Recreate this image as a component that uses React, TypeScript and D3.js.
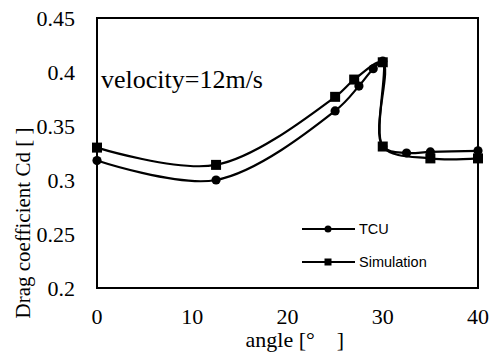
import React from "react";
import * as d3 from "d3";

// Drag coefficient vs yaw angle at 12 m/s
const tcuAngle = [0, 12.5, 25, 27.5, 29, 30, 30, 32.5, 35, 40];
const tcuCd = [0.318, 0.3, 0.364, 0.387, 0.403, 0.41, 0.331, 0.325, 0.326, 0.327];
const simAngle = [0, 12.5, 25, 27, 30, 30, 35, 40];
const simCd = [0.33, 0.314, 0.377, 0.393, 0.409, 0.331, 0.32, 0.32];

const xTicks = [0, 10, 20, 30, 40];
const yTicks = [0.2, 0.25, 0.3, 0.35, 0.4, 0.45];
const yTickLabels = ["0.2", "0.25", "0.3", "0.35", "0.4", "0.45"];
const seriesNames = ["TCU", "Simulation"];

const W = 492;
const H = 356;
const M = { left: 97, right: 478, top: 18, bottom: 288 };

export default function App() {
  const x = d3.scaleLinear().domain([0, 40]).range([M.left, M.right]);
  const y = d3.scaleLinear().domain([0.2, 0.45]).range([M.bottom, M.top]);
  const line = d3
    .line<[number, number]>()
    .x((d) => x(d[0]))
    .y((d) => y(d[1]))
    .curve(d3.curveCatmullRom.alpha(0.5));

  const tcu: [number, number][] = tcuAngle.map((a, i) => [a, tcuCd[i]]);
  const sim: [number, number][] = simAngle.map((a, i) => [a, simCd[i]]);
  const serif = "'Liberation Serif', 'Times New Roman', serif";
  const sans = "'Liberation Sans', Arial, sans-serif";

  return (
    <svg width={W} height={H} style={{ position: "absolute", left: 0, top: 0, background: "#fff" }}>
      <rect x={0} y={0} width={W} height={H} fill="#fff" />
      {/* plot frame */}
      <rect
        x={M.left}
        y={M.top}
        width={M.right - M.left}
        height={M.bottom - M.top}
        fill="none"
        stroke="#000"
        strokeWidth={2}
      />
      {/* y tick labels */}
      {yTicks.map((t, i) => (
        <text key={t} x={75} y={y(t) + 8} textAnchor="end" fontFamily={serif} fontSize={22} fill="#000">
          {yTickLabels[i]}
        </text>
      ))}
      {/* x tick labels */}
      {xTicks.map((t) => (
        <text key={t} x={x(t)} y={324} textAnchor="middle" fontFamily={serif} fontSize={22} fill="#000">
          {t}
        </text>
      ))}
      <text x={x(20) - 42} y={347} fontFamily={serif} fontSize={22} fill="#000">
        angle [°　]
      </text>
      <text
        transform={`translate(30, ${(M.top + M.bottom) / 2 + 70}) rotate(-90)`}
        textAnchor="middle"
        fontFamily={serif}
        fontSize={21}
        fill="#000"
      >
        Drag coefficient Cd [ ]
      </text>
      <text x={101} y={88} fontFamily={serif} fontSize={26} fill="#000">
        velocity=12m/s
      </text>

      {/* series lines */}
      <path d={line(tcu) ?? ""} fill="none" stroke="#000" strokeWidth={2.2} />
      <path d={line(sim) ?? ""} fill="none" stroke="#000" strokeWidth={2.2} />
      {tcu.map((d, i) => (
        <circle key={"c" + i} cx={x(d[0])} cy={y(d[1])} r={4.6} fill="#000" />
      ))}
      {sim.map((d, i) => (
        <rect key={"s" + i} x={x(d[0]) - 5} y={y(d[1]) - 5} width={10} height={10} fill="#000" />
      ))}

      {/* legend */}
      <g>
        <line x1={302} x2={355} y1={229} y2={229} stroke="#000" strokeWidth={2.2} />
        <circle cx={328} cy={229} r={3.5} fill="#000" />
        <text x={359} y={234} fontFamily={sans} fontSize={14.5} fill="#000">
          {seriesNames[0]}
        </text>
        <line x1={302} x2={355} y1={262} y2={262} stroke="#000" strokeWidth={2.2} />
        <rect x={324.5} y={258.5} width={7} height={7} fill="#000" />
        <text x={359} y={267} fontFamily={sans} fontSize={14.5} fill="#000">
          {seriesNames[1]}
        </text>
      </g>
    </svg>
  );
}
